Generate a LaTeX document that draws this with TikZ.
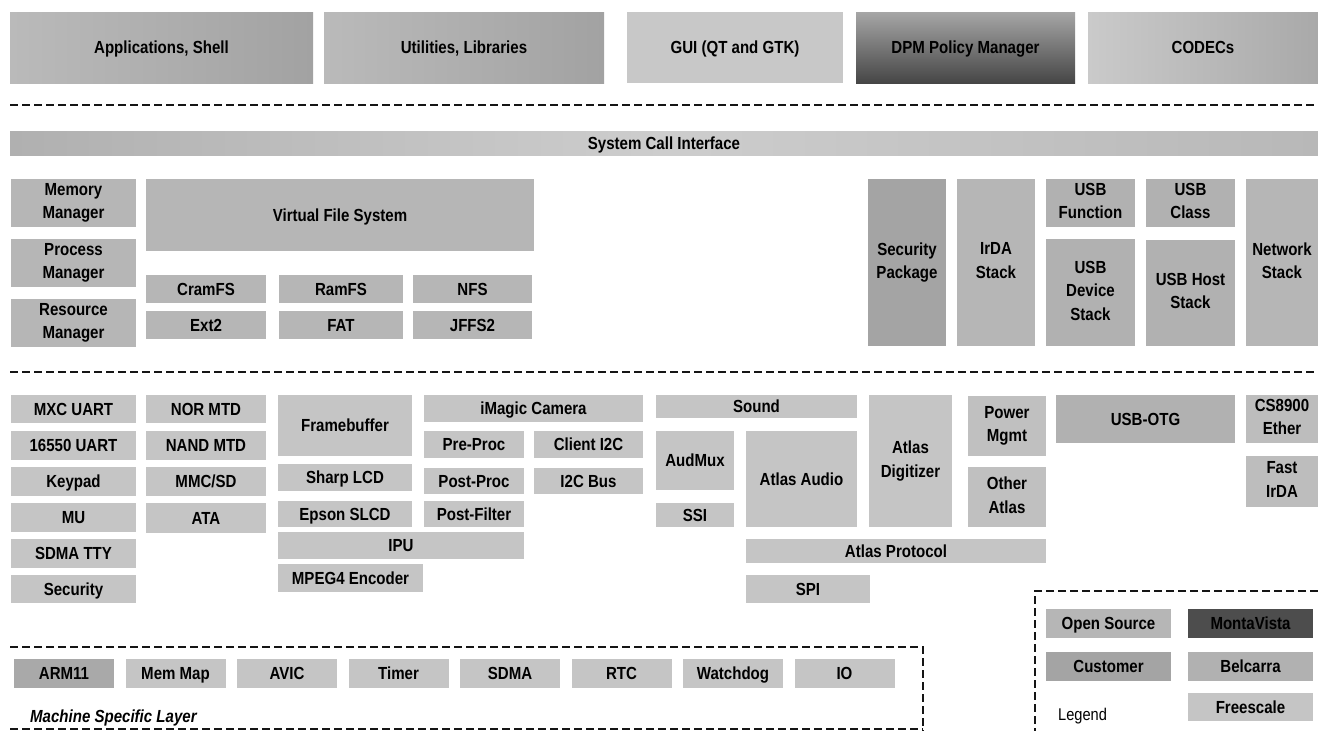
\documentclass[tikz,border=0pt]{standalone}
\usepackage{fontspec}
\setmainfont{Liberation Sans}[FakeStretch=0.86]
\definecolor{osrc}{HTML}{B6B6B6}
\definecolor{cust}{HTML}{A4A4A4}
\definecolor{mvis}{HTML}{4D4D4D}
\definecolor{belc}{HTML}{B1B1B1}
\definecolor{fsl}{HTML}{C5C5C5}
\definecolor{osrclt}{HTML}{BDBDBD}
\definecolor{atl}{HTML}{C0C0C0}
\definecolor{armc}{HTML}{A9A9A9}
\definecolor{gA}{HTML}{BABABA}
\definecolor{gB}{HTML}{A2A2A2}
\definecolor{gGui}{HTML}{C8C8C8}
\definecolor{gDt}{HTML}{A6A6A6}
\definecolor{gDb}{HTML}{464646}
\definecolor{gCl}{HTML}{CACACA}
\definecolor{gCr}{HTML}{A9A9A9}
\definecolor{gSl}{HTML}{B0B0B0}
\definecolor{gSm}{HTML}{CDCDCD}
\definecolor{gSr}{HTML}{B8B8B8}
\definecolor{dash}{HTML}{151515}
\newcommand\toprule{\rule{0pt}{16.5pt}}
\newcommand\botrule{\rule[-4pt]{0pt}{4pt}}
\tikzset{
  bk/.style={draw=none, inner sep=0pt, outer sep=0pt, align=center, text=black,
    font=\fontsize{17.5}{23.5}\selectfont\bfseries,
    execute at begin node=\toprule, execute at end node=\botrule},
  dline/.style={draw=dash, line width=2.3pt, dash pattern=on 8pt off 4pt},
  plain/.style={inner sep=0pt, text=black, font=\fontsize{17}{20}\selectfont},
}
% name, options, x1, y1, x2, y2, text
\newcommand\blk[7]{\node[bk,#2,minimum width={#5-#3},minimum height={#6-#4}] (#1) at ({(#3+#5)/2},{(#4+#6)/2}) {#7};}
\begin{document}
\begin{tikzpicture}[x=1pt,y=-1pt]
\useasboundingbox[fill=white] (0,0) rectangle (1318,731);
% ---- user space
\blk{app}{left color=gA,right color=gB}{10}{12}{313}{83}{Applications, Shell}
\blk{util}{left color=gA,right color=gB}{324}{12}{604}{83}{Utilities, Libraries}
\blk{gui}{fill=gGui}{627}{12}{843}{83}{GUI (QT and GTK)}
\blk{dpm}{top color=gDt,bottom color=gDb}{856}{12}{1075}{83}{DPM Policy Manager}
\blk{codec}{left color=gCl,right color=gCr}{1088}{12}{1318}{83}{CODECs}
% ---- system call
\blk{sci}{left color=gSl,right color=gSr,middle color=gSm}{10}{131}{1318}{155}{System Call Interface}
% ---- kernel
\blk{mem}{fill=osrc}{11}{179}{136}{227}{Memory\\Manager}
\blk{proc}{fill=osrc}{11}{239}{136}{287}{Process\\Manager}
\blk{res}{fill=osrc}{11}{299}{136}{347}{Resource\\Manager}
\blk{vfs}{fill=osrc}{146}{179}{534}{251}{Virtual File System}
\blk{cram}{fill=osrc}{146}{275}{266}{303}{CramFS}
\blk{ramfs}{fill=osrc}{279}{275}{403}{303}{RamFS}
\blk{nfs}{fill=osrc}{413}{275}{532}{303}{NFS}
\blk{ext}{fill=osrc}{146}{311}{266}{339}{Ext2}
\blk{fat}{fill=osrc}{279}{311}{403}{339}{FAT}
\blk{jffs}{fill=osrc}{413}{311}{532}{339}{JFFS2}
\blk{secp}{fill=cust}{868}{179}{946}{346}{Security\\Package}
\blk{irda}{fill=osrc}{957}{179}{1035}{346}{IrDA\\Stack}
\blk{usbf}{fill=belc}{1046}{179}{1135}{227}{USB\\Function}
\blk{usbc}{fill=belc}{1146}{179}{1235}{227}{USB\\Class}
\blk{usbd}{fill=belc}{1046}{239}{1135}{346}{USB\\Device\\Stack}
\blk{usbh}{fill=belc}{1146}{240}{1235}{346}{USB Host\\Stack}
\blk{net}{fill=osrc}{1246}{179}{1318}{346}{Network\\Stack}
% ---- drivers
\blk{mxc}{fill=fsl}{11}{395}{136}{423}{MXC UART}
\blk{uart}{fill=fsl}{11}{431}{136}{460}{16550 UART}
\blk{keyp}{fill=fsl}{11}{467}{136}{496}{Keypad}
\blk{mu}{fill=fsl}{11}{503}{136}{532}{MU}
\blk{tty}{fill=fsl}{11}{539}{136}{568}{SDMA TTY}
\blk{secu}{fill=fsl}{11}{575}{136}{603}{Security}
\blk{nor}{fill=fsl}{146}{395}{266}{423}{NOR MTD}
\blk{nand}{fill=fsl}{146}{431}{266}{460}{NAND MTD}
\blk{mmc}{fill=fsl}{146}{467}{266}{496}{MMC/SD}
\blk{ata}{fill=fsl}{146}{503}{266}{533}{ATA}
\blk{fb}{fill=fsl}{278}{395}{412}{456}{Framebuffer}
\blk{sharp}{fill=fsl}{278}{464}{412}{491}{Sharp LCD}
\blk{epson}{fill=fsl}{278}{501}{412}{527}{Epson SLCD}
\blk{ipu}{fill=fsl}{278}{532}{524}{559}{IPU}
\blk{mpeg}{fill=fsl}{278}{564}{423}{592}{MPEG4 Encoder}
\blk{imag}{fill=fsl}{424}{395}{643}{422}{iMagic Camera}
\blk{pre}{fill=fsl}{424}{431}{524}{458}{Pre-Proc}
\blk{post}{fill=fsl}{424}{468}{524}{494}{Post-Proc}
\blk{pflt}{fill=fsl}{424}{501}{524}{527}{Post-Filter}
\blk{ci2c}{fill=fsl}{534}{431}{643}{458}{Client I2C}
\blk{i2cb}{fill=fsl}{534}{468}{643}{494}{I2C Bus}
\blk{snd}{fill=fsl}{656}{395}{857}{418}{Sound}
\blk{amux}{fill=fsl}{656}{431}{734}{490}{AudMux}
\blk{ssi}{fill=fsl}{656}{503}{734}{527}{SSI}
\blk{aaud}{fill=fsl}{746}{431}{857}{527}{Atlas Audio}
\blk{adig}{fill=fsl}{869}{395}{952}{527}{Atlas\\Digitizer}
\blk{pwr}{fill=atl}{968}{396}{1046}{456}{Power\\Mgmt}
\blk{oatl}{fill=atl}{968}{467}{1046}{527}{Other\\Atlas}
\blk{otg}{fill=belc}{1056}{395}{1235}{443}{USB-OTG}
\blk{cs}{fill=osrclt}{1246}{395}{1318}{443}{CS8900\\Ether}
\blk{fir}{fill=osrclt}{1246}{456}{1318}{507}{Fast\\IrDA}
\blk{aprot}{fill=fsl}{746}{539}{1046}{563}{Atlas Protocol}
\blk{spi}{fill=fsl}{746}{575}{870}{603}{SPI}
% ---- machine specific layer
\blk{arm}{fill=armc}{14}{659}{114}{688}{ARM11}
\blk{mmap}{fill=fsl}{125.5}{659}{225.5}{688}{Mem Map}
\blk{avic}{fill=fsl}{237}{659}{337}{688}{AVIC}
\blk{timer}{fill=fsl}{348.5}{659}{448.5}{688}{Timer}
\blk{sdma}{fill=fsl}{460}{659}{560}{688}{SDMA}
\blk{rtc}{fill=fsl}{571.5}{659}{671.5}{688}{RTC}
\blk{wdog}{fill=fsl}{683}{659}{783}{688}{Watchdog}
\blk{io}{fill=fsl}{794.5}{659}{894.5}{688}{IO}
\node[plain, font=\fontsize{17.5}{20}\selectfont\bfseries\itshape, anchor=west] (msl) at (30,718) {Machine Specific Layer};
% ---- legend
\blk{lgos}{fill=osrc}{1046}{609}{1171}{638}{Open Source}
\blk{lgmv}{fill=mvis}{1188}{609}{1313}{638}{MontaVista}
\blk{lgcu}{fill=cust}{1046}{652}{1171}{681}{Customer}
\blk{lgbe}{fill=belc}{1188}{652}{1313}{681}{Belcarra}
\blk{lgfs}{fill=fsl}{1188}{693}{1313}{721}{Freescale}
\node[plain, anchor=west] (lgtxt) at (1058,716) {Legend};
% ---- dashed separators
\coordinate (d1a) at (10,105);  \coordinate (d1b) at (1318,105);
\coordinate (d2a) at (10,372);  \coordinate (d2b) at (1318,372);
\coordinate (m1) at (10,647);   \coordinate (m2) at (923,647);
\coordinate (m3) at (923,731);  \coordinate (m4) at (10,729);
\coordinate (m5) at (923,729);
\coordinate (l1) at (1318,591); \coordinate (l2) at (1035,591);
\coordinate (l3) at (1035,731);
\draw[dline] (d1a) -- (d1b);
\draw[dline] (d2a) -- (d2b);
\draw[dline] (m1) -- (m2) -- (m3);
\draw[dline] (m4) -- (m5);
\draw[dline] (l1) -- (l2) -- (l3);
\end{tikzpicture}
\end{document}
